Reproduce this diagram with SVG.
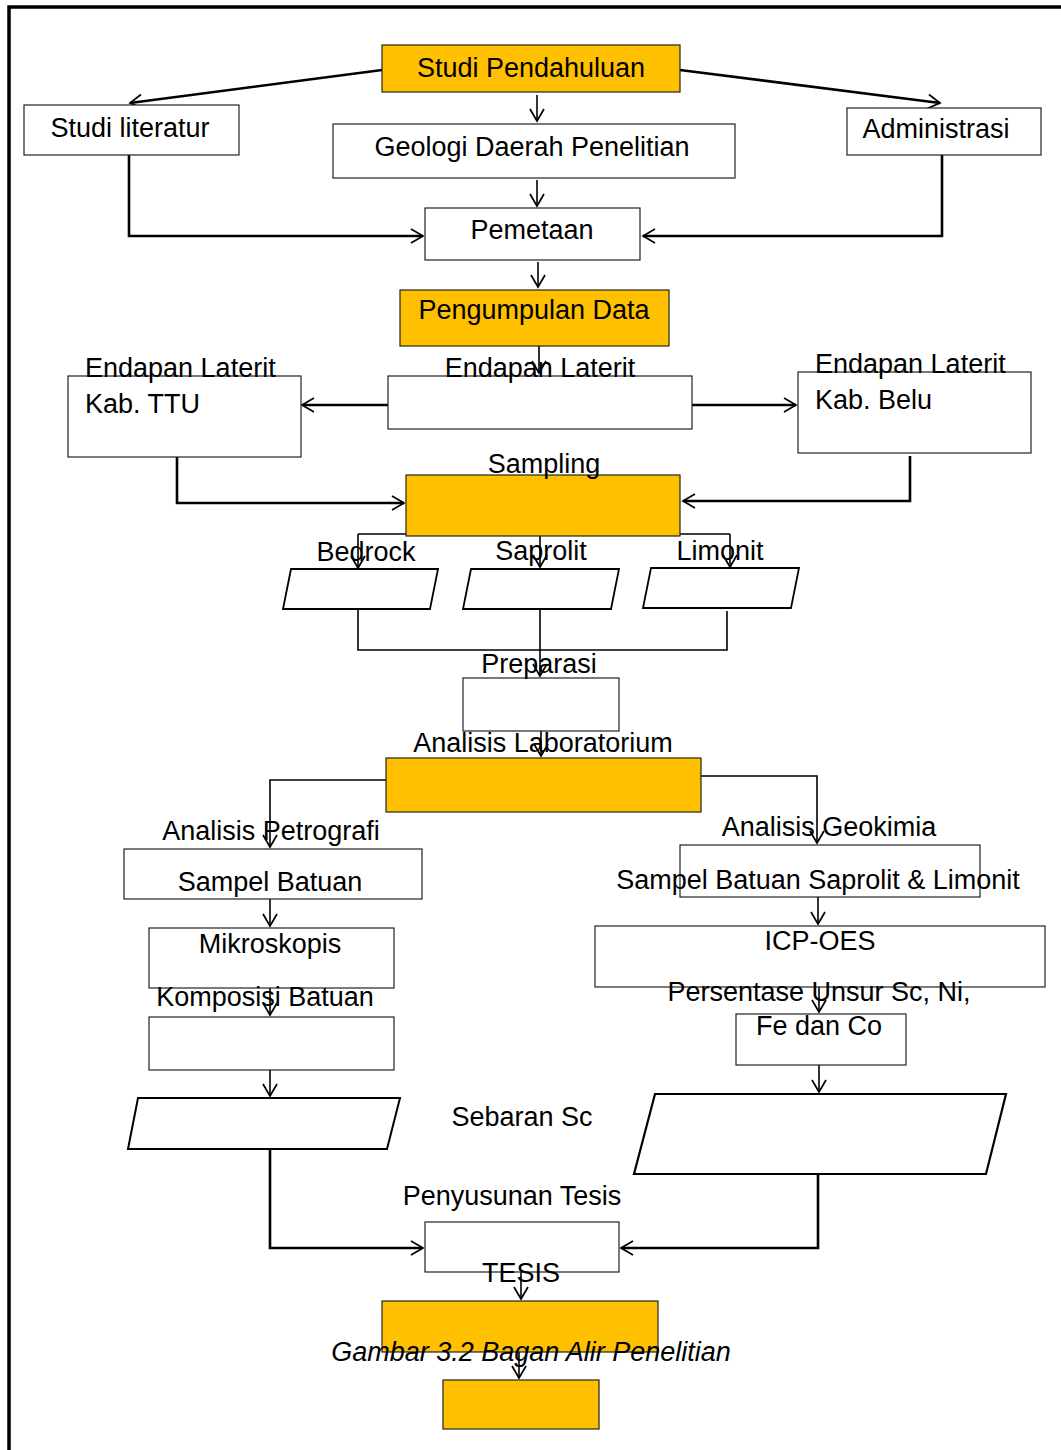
<svg xmlns="http://www.w3.org/2000/svg" width="1061" height="1450" viewBox="0 0 1061 1450">
<style>
text{font-family:"Liberation Sans",Arial,sans-serif;font-size:27px;fill:#000}
.c{text-anchor:middle}
.box{fill:#fff;stroke:#222;stroke-width:1.2}
.par{fill:#fff;stroke:#000;stroke-width:1.8}
.org{fill:#FFC000;stroke:#222;stroke-width:1.2}
.ln{fill:none;stroke:#000;stroke-width:1.6}
.tk{fill:none;stroke:#000;stroke-width:2.6}
.it{font-style:italic}
</style>
<defs>
<marker id="a" markerUnits="userSpaceOnUse" markerWidth="18" markerHeight="18" refX="14" refY="9" orient="auto">
<path d="M2,2 L14,9 L2,16" fill="none" stroke="#000" stroke-width="1.7"/>
</marker>
</defs>
<rect width="1061" height="1450" fill="#fff"/>
<path d="M9,1450 V7 H1061" fill="none" stroke="#000" stroke-width="3.5"/>

<g id="connectors">
<path class="tk" d="M382,70 L130,103" marker-end="url(#a)"/>
<path class="tk" d="M680,70 L940,103" marker-end="url(#a)"/>
<path class="ln" d="M537,95 V121" marker-end="url(#a)"/>
<path class="ln" d="M537,180 V206" marker-end="url(#a)"/>
<path class="tk" d="M129,155 V236 H423" marker-end="url(#a)"/>
<path class="tk" d="M942,155 V236 H643" marker-end="url(#a)"/>
<path class="ln" d="M538,262 V287" marker-end="url(#a)"/>
<path class="ln" d="M539,346 V373" marker-end="url(#a)"/>
<path class="tk" d="M388,405 H302" marker-end="url(#a)"/>
<path class="tk" d="M692,405 H796" marker-end="url(#a)"/>
<path class="tk" d="M177,457 V503 H404" marker-end="url(#a)"/>
<path class="tk" d="M910,456 V501 H683" marker-end="url(#a)"/>
<path class="ln" d="M358,534 H730"/>
<path class="ln" d="M358,534 V568" marker-end="url(#a)"/>
<path class="ln" d="M540,534 V567" marker-end="url(#a)"/>
<path class="ln" d="M730,534 V567" marker-end="url(#a)"/>
<path class="ln" d="M358,609 V650 H727 V611"/>
<path class="ln" d="M540,609 V676" marker-end="url(#a)"/>
<path class="ln" d="M541,731 V756" marker-end="url(#a)"/>
<path class="ln" d="M386,780 H270 V847" marker-end="url(#a)"/>
<path class="ln" d="M701,776 H817 V843" marker-end="url(#a)"/>
<path class="ln" d="M270,899 V926" marker-end="url(#a)"/>
<path class="ln" d="M818,897 V924" marker-end="url(#a)"/>
<path class="ln" d="M270,988 V1015" marker-end="url(#a)"/>
<path class="ln" d="M819,987 V1012" marker-end="url(#a)"/>
<path class="ln" d="M270,1070 V1096" marker-end="url(#a)"/>
<path class="ln" d="M819,1065 V1092" marker-end="url(#a)"/>
<path class="tk" d="M270,1149 V1248 H423" marker-end="url(#a)"/>
<path class="tk" d="M818,1174 V1248 H621" marker-end="url(#a)"/>
<path class="ln" d="M521,1272 V1299" marker-end="url(#a)"/>
<path class="ln" d="M519,1352 V1378" marker-end="url(#a)"/>
</g>

<g id="studi-pendahuluan"><rect class="org" x="382" y="45" width="298" height="47"/><text class="c" x="531" y="77">Studi Pendahuluan</text></g>
<g id="studi-literatur"><rect class="box" x="24" y="105" width="215" height="50"/><text class="c" x="130" y="137">Studi literatur</text></g>
<g id="geologi"><rect class="box" x="333" y="124" width="402" height="54"/><text class="c" x="532" y="156">Geologi Daerah Penelitian</text></g>
<g id="administrasi"><rect class="box" x="847" y="108" width="194" height="47"/><text class="c" x="936" y="138">Administrasi</text></g>
<g id="pemetaan"><rect class="box" x="425" y="208" width="215" height="52"/><text class="c" x="532" y="239">Pemetaan</text></g>
<g id="pengumpulan-data"><rect class="org" x="400" y="290" width="269" height="56"/><text class="c" x="534" y="319">Pengumpulan Data</text></g>
<g id="ttu"><rect class="box" x="68" y="376" width="233" height="81"/><text x="85" y="377">Endapan Laterit</text><text x="85" y="413">Kab. TTU</text></g>
<g id="endapan-laterit"><rect class="box" x="388" y="376" width="304" height="53"/><text class="c" x="540" y="377">Endapan Laterit</text></g>
<g id="belu"><rect class="box" x="798" y="372" width="233" height="81"/><text x="815" y="373">Endapan Laterit</text><text x="815" y="409">Kab. Belu</text></g>
<g id="sampling"><rect class="org" x="406" y="475" width="274" height="61"/><text class="c" x="544" y="473">Sampling</text></g>
<g id="bedrock"><polygon class="par" points="291,569 438,569 430,609 283,609"/><text class="c" x="366" y="561">Bedrock</text></g>
<g id="saprolit"><polygon class="par" points="471,569 619,569 611,609 463,609"/><text class="c" x="541" y="560">Saprolit</text></g>
<g id="limonit"><polygon class="par" points="651,568 799,568 791,608 643,608"/><text class="c" x="720" y="560">Limonit</text></g>
<g id="preparasi"><rect class="box" x="463" y="678" width="156" height="53"/><text class="c" x="539" y="673">Preparasi</text></g>
<g id="analisis-lab"><rect class="org" x="386" y="758" width="315" height="54"/><text class="c" x="543" y="752">Analisis Laboratorium</text></g>
<g id="petrografi"><rect class="box" x="124" y="849" width="298" height="50"/><text class="c" x="271" y="840">Analisis Petrografi</text><text class="c" x="270" y="891">Sampel Batuan</text></g>
<g id="geokimia"><rect class="box" x="680" y="845" width="300" height="52"/><text class="c" x="829" y="836">Analisis Geokimia</text><text class="c" x="818" y="889">Sampel Batuan Saprolit &amp; Limonit</text></g>
<g id="mikroskopis"><rect class="box" x="149" y="928" width="245" height="60"/><text class="c" x="270" y="953">Mikroskopis</text></g>
<g id="icp-oes"><rect class="box" x="595" y="926" width="450" height="61"/><text class="c" x="820" y="950">ICP-OES</text></g>
<g id="komposisi"><rect class="box" x="149" y="1017" width="245" height="53"/><text class="c" x="265" y="1006">Komposisi Batuan</text></g>
<g id="persentase"><rect class="box" x="736" y="1014" width="170" height="51"/><text class="c" x="819" y="1001">Persentase Unsur Sc, Ni,</text><text class="c" x="819" y="1035">Fe dan Co</text></g>
<g id="para-left"><polygon class="par" style="stroke-width:2" points="138,1098 400,1098 387,1149 128,1149"/></g>
<g id="sebaran"><text class="c" x="522" y="1126">Sebaran Sc</text></g>
<g id="para-right"><polygon class="par" style="stroke-width:2.2" points="655,1094 1006,1094 986,1174 634,1174"/></g>
<g id="penyusunan"><rect class="box" x="425" y="1222" width="194" height="50"/><text class="c" x="512" y="1205">Penyusunan Tesis</text></g>
<g id="tesis"><rect class="org" x="382" y="1301" width="276" height="51"/><text class="c" x="521" y="1282">TESIS</text></g>
<g id="caption"><text class="c it" x="531" y="1361">Gambar 3.2 Bagan Alir Penelitian</text></g>
<g id="final"><rect class="org" x="443" y="1380" width="156" height="49"/></g>
</svg>
